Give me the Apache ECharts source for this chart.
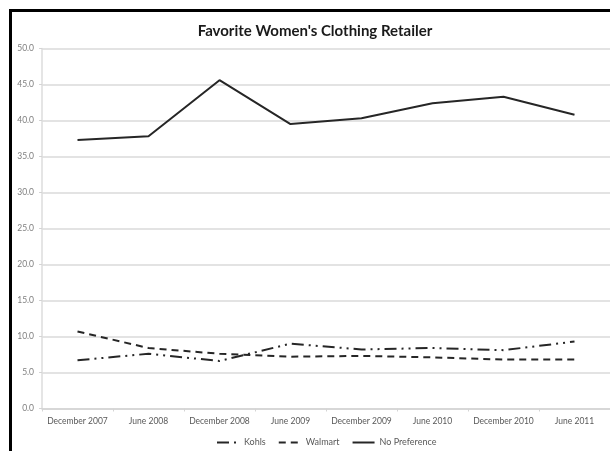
<!DOCTYPE html>
<html>
<head>
<meta charset="utf-8">
<script src="https://cdn.jsdelivr.net/npm/echarts@6/dist/echarts.min.js"></script>
<style>
  html, body { margin: 0; padding: 0; background: #fff; overflow: hidden; }
  #chart { width: 610px; height: 451px; }
</style>
</head>
<body>
<div id="chart"></div>
<script>
// Survey periods
const periods = ['December 2007', 'June 2008', 'December 2008', 'June 2009',
                 'December 2009', 'June 2010', 'December 2010', 'June 2011'];

// Share of respondents (%) naming each retailer
const kohls        = [6.7, 7.6, 6.6, 9.0, 8.2, 8.4, 8.1, 9.3];
const walmart      = [10.7, 8.4, 7.6, 7.2, 7.3, 7.1, 6.8, 6.8];
const noPreference = [37.3, 37.8, 45.6, 39.5, 40.3, 42.4, 43.3, 40.8];

const FONT = 'Lato, "Open Sans", sans-serif';
const LINE = '#262626';

const chart = echarts.init(document.getElementById('chart'), null, { renderer: 'canvas' });

chart.setOption({
  animation: false,
  backgroundColor: '#fff',
  title: {
    text: "Favorite Women's Clothing Retailer",
    left: 310,
    top: 19,
    textAlign: 'center',
    textStyle: { fontFamily: FONT, fontWeight: 'bold', fontSize: 15, color: '#1a1a1a' }
  },
  // frame edges (top and left) around the chart area, drawn as one open path
  graphic: [
    {
      type: 'polyline',
      shape: { points: [[10.5, 451], [10.5, 10.5], [610, 10.5]] },
      style: { stroke: '#000', lineWidth: 3, fill: null },
      silent: true, z: 100
    }
  ],
  legend: {
    left: 211,
    top: 433,
    itemWidth: 22,
    itemHeight: 10,
    itemGap: 12,
    itemStyle: { opacity: 0 },
    textStyle: { fontFamily: FONT, fontSize: 9, color: '#595959' },
    data: ['Kohls', 'Walmart', 'No Preference']
  },
  grid: { left: 42, right: 0, top: 48.5, bottom: 42.5, containLabel: false },
  xAxis: {
    type: 'category',
    data: periods,
    boundaryGap: true,
    axisLine: { lineStyle: { color: '#d4d4d4', width: 1.5 } },
    axisTick: { show: true, length: 3, lineStyle: { color: '#d4d4d4' } },
    axisLabel: { fontFamily: FONT, fontSize: 8.5, color: '#595959', margin: 8, interval: 0 }
  },
  yAxis: {
    type: 'value',
    min: 0,
    max: 50,
    interval: 5,
    axisLine: { show: true, lineStyle: { color: '#dcdcdc', width: 1.5 } },
    axisTick: { show: true, length: 3, lineStyle: { color: '#d4d4d4' } },
    axisLabel: {
      fontFamily: FONT, fontSize: 8.5, color: '#7f7f7f', margin: 8,
      formatter: v => v.toFixed(1)
    },
    splitLine: { lineStyle: { color: '#e3e3e3', width: 2 } }
  },
  series: [
    {
      name: 'Kohls',
      type: 'line',
      data: kohls,
      symbol: 'none',
      lineStyle: { color: LINE, width: 2, type: [12, 5, 2, 5, 2, 5] },
      itemStyle: { color: LINE }
    },
    {
      name: 'Walmart',
      type: 'line',
      data: walmart,
      symbol: 'none',
      lineStyle: { color: LINE, width: 2, type: [7, 5] },
      itemStyle: { color: LINE }
    },
    {
      name: 'No Preference',
      type: 'line',
      data: noPreference,
      symbol: 'none',
      lineStyle: { color: LINE, width: 2 },
      itemStyle: { color: LINE }
    }
  ]
});
</script>
</body>
</html>
